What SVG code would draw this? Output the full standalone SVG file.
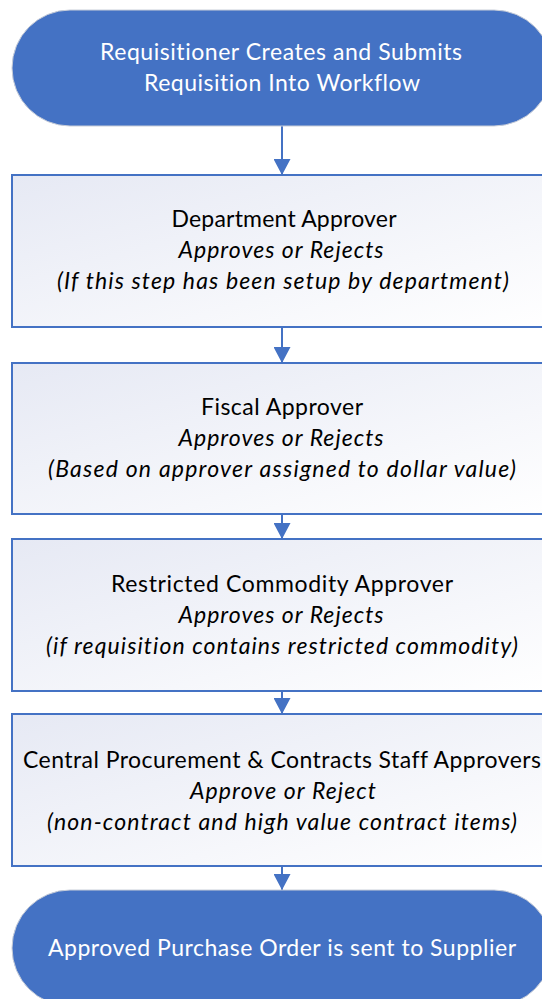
<svg xmlns="http://www.w3.org/2000/svg" width="542" height="999" viewBox="0 0 542 999">
  <defs>
    <linearGradient id="boxFill" x1="0" y1="0" x2="1" y2="1">
      <stop offset="0" stop-color="#E6E9F4"/>
      <stop offset="1" stop-color="#FFFFFF"/>
    </linearGradient>
    <marker id="arrowHead" markerUnits="userSpaceOnUse" markerWidth="18" markerHeight="17" refX="17" refY="9" orient="auto" viewBox="0 0 17 18">
      <path d="M0,0 L17,9 L0,18 Z" fill="#4472C4"/>
    </marker>
    <style>
      .terminal { fill: #4472C4; stroke: #C9CED8; stroke-width: 1; }
      .step { fill: url(#boxFill); stroke: #4472C4; stroke-width: 2; }
      .label { font-family: "Lato", "Open Sans", sans-serif; font-size: 23px; text-anchor: middle; fill: #000000; font-variant-ligatures: none; }
      .light { fill: #FFFFFF; }
      .em { font-style: italic; }
      .flow { stroke: #4472C4; stroke-width: 2; fill: none; marker-end: url(#arrowHead); }
    </style>
  </defs>

  <!-- connectors between consecutive steps -->
  <g id="connectors">
    <line class="flow" x1="282" y1="126" x2="282" y2="175"/>
    <line class="flow" x1="282" y1="327" x2="282" y2="363"/>
    <line class="flow" x1="282" y1="514" x2="282" y2="539"/>
    <line class="flow" x1="282" y1="691" x2="282" y2="714"/>
    <line class="flow" x1="282" y1="866" x2="282" y2="890"/>
  </g>

  <g id="start">
    <rect class="terminal" x="12" y="10" width="540" height="116" rx="58" ry="58"/>
    <text class="label light" x="281" y="60" textLength="362">Requisitioner Creates and Submits</text>
    <text class="label light" x="282" y="91" textLength="276">Requisition Into Workflow</text>
  </g>

  <g id="department-approver">
    <rect class="step" x="12" y="175" width="540" height="152"/>
    <text class="label" x="284" y="227" textLength="225">Department Approver</text>
    <text class="label em" x="281" y="258" textLength="205">Approves or Rejects</text>
    <text class="label em" x="283" y="289" textLength="452">(If this step has been setup by department)</text>
  </g>

  <g id="fiscal-approver">
    <rect class="step" x="12" y="363" width="540" height="151"/>
    <text class="label" x="282" y="415" textLength="162">Fiscal Approver</text>
    <text class="label em" x="281" y="446" textLength="205">Approves or Rejects</text>
    <text class="label em" x="282" y="477" textLength="468">(Based on approver assigned to dollar value)</text>
  </g>

  <g id="restricted-commodity-approver">
    <rect class="step" x="12" y="539" width="540" height="152"/>
    <text class="label" x="282" y="592" textLength="342">Restricted Commodity Approver</text>
    <text class="label em" x="281" y="623" textLength="205">Approves or Rejects</text>
    <text class="label em" x="282" y="654" textLength="472">(if requisition contains restricted commodity)</text>
  </g>

  <g id="central-procurement">
    <rect class="step" x="12" y="714" width="540" height="152"/>
    <text class="label" x="282" y="768" textLength="518">Central Procurement &amp; Contracts Staff Approvers</text>
    <text class="label em" x="283" y="799" textLength="186">Approve or Reject</text>
    <text class="label em" x="282" y="830" textLength="470">(non-contract and high value contract items)</text>
  </g>

  <g id="end">
    <rect class="terminal" x="12" y="890" width="540" height="116" rx="58" ry="58"/>
    <text class="label light" x="282" y="956" textLength="468">Approved Purchase Order is sent to Supplier</text>
  </g>
</svg>
